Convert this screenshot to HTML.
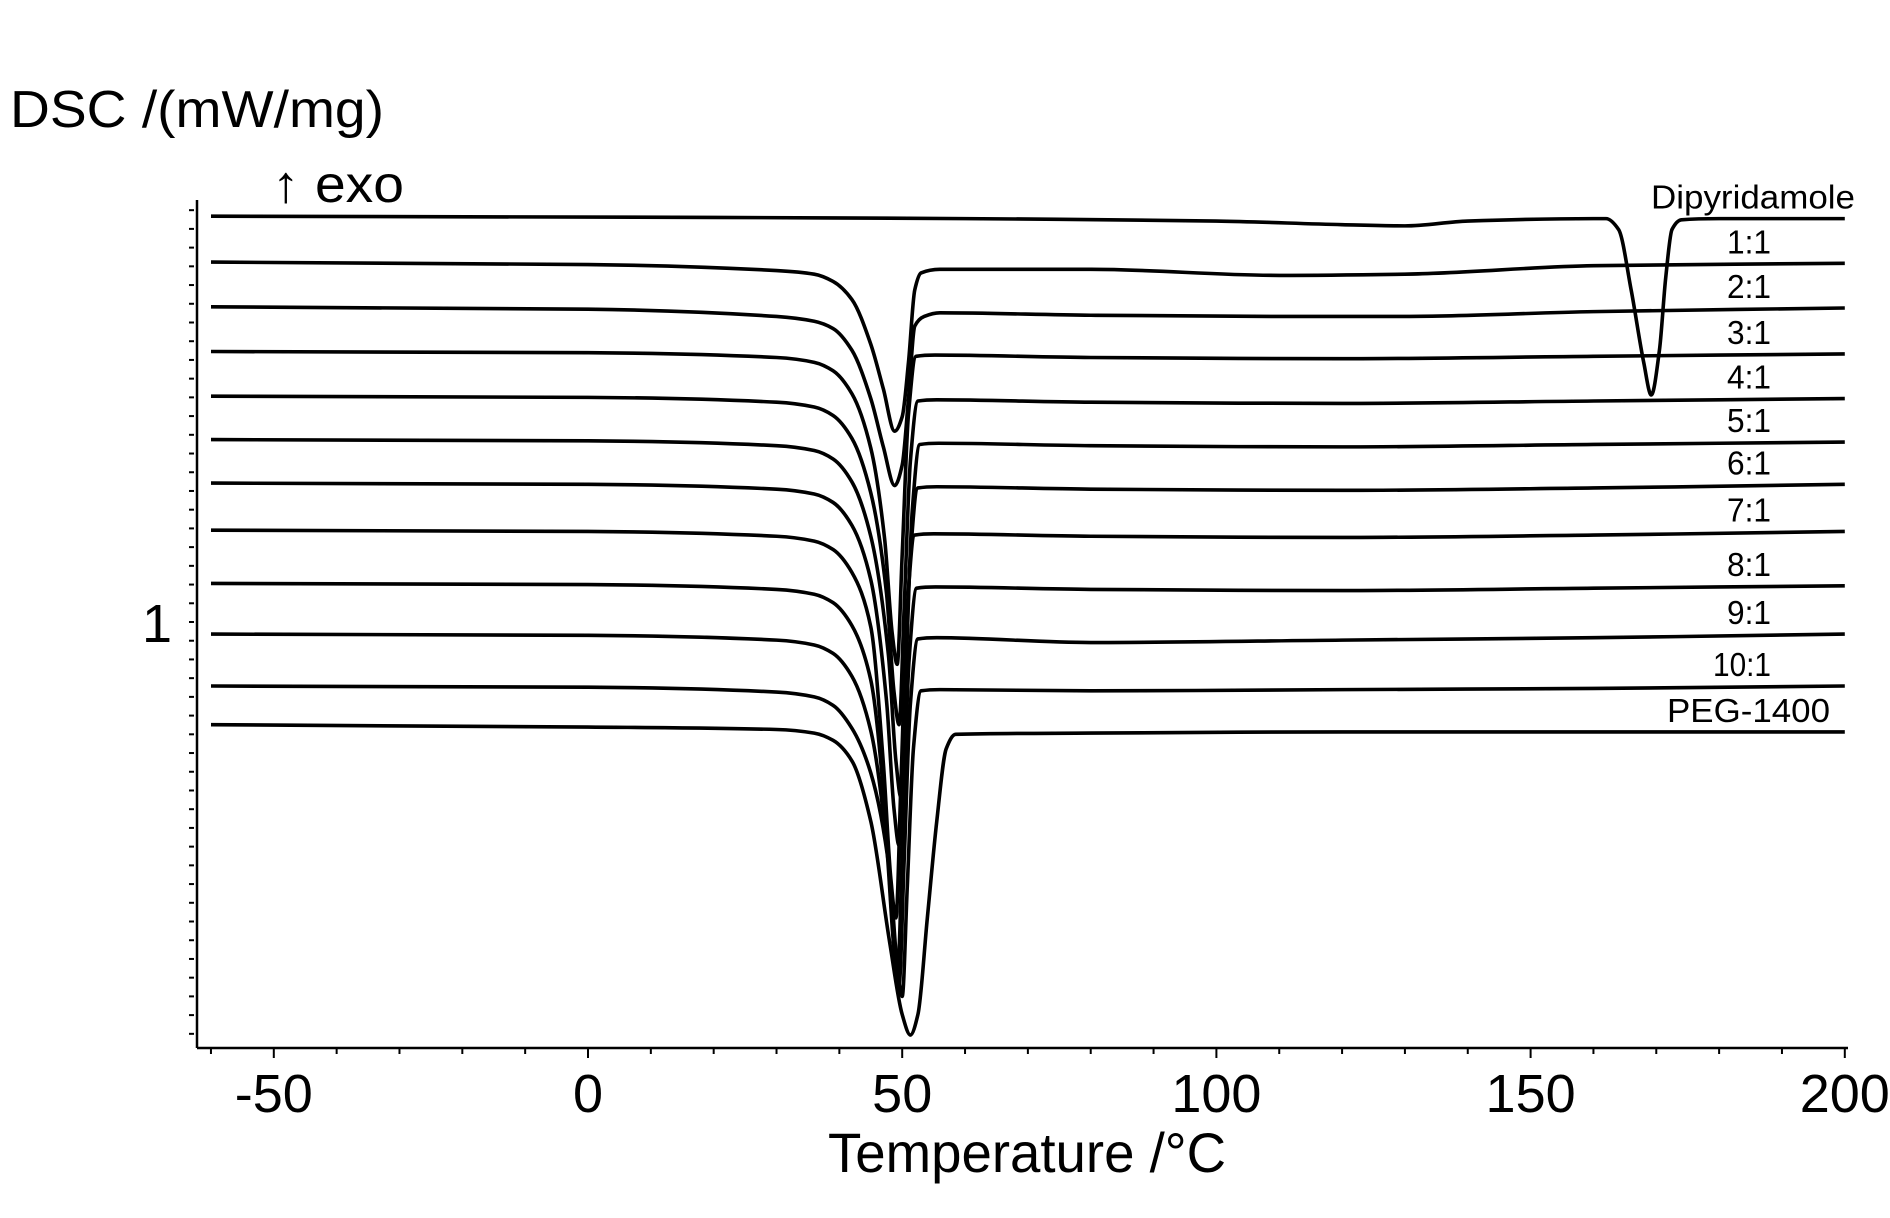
<!DOCTYPE html>
<html><head><meta charset="utf-8"><style>
html,body{margin:0;padding:0;background:#fff;}
svg{display:block;font-family:"Liberation Sans",sans-serif;}
</style></head><body>
<svg id="chart" width="1890" height="1218" viewBox="0 0 1890 1218" xmlns="http://www.w3.org/2000/svg">
<g id="axes"></g>
<g id="curves"></g>
<g id="labels"></g>
<text x="10" y="127" font-size="52" textLength="374" lengthAdjust="spacingAndGlyphs">DSC /(mW/mg)</text>
<text x="272" y="202" font-size="52" textLength="132" lengthAdjust="spacingAndGlyphs">↑ exo</text>
<text x="1027" y="1172" font-size="56" text-anchor="middle" textLength="398" lengthAdjust="spacingAndGlyphs">Temperature /°C</text>
</svg>
<script>
const seriesNames = ["Dipyridamole","1:1","2:1","3:1","4:1","5:1","6:1","7:1","8:1","9:1","10:1","PEG-1400"];
const tDip = [-60,20,60,100,120,130,140,160,162,164,166,168,169.2,170.5,171.5,172.5,174,180,200];
const vDip = [4.36,4.35,4.34,4.32,4.29,4.28,4.32,4.34,4.34,4.25,3.75,3.15,2.88,3.25,3.85,4.25,4.33,4.34,4.34];
const t11 = [-60,0,30,36,39,42,45,47,48.8,50,51,52,53,56,80,110,130,160,200];
const v11 = [3.98,3.96,3.91,3.88,3.82,3.67,3.30,2.93,2.58,2.70,3.15,3.75,3.89,3.92,3.92,3.87,3.88,3.95,3.97];
const t21 = [-60,0,30,36,39,42,45,47,48.8,50,51,52,53.5,56,80,110,130,160,200];
const v21 = [3.61,3.59,3.53,3.49,3.43,3.25,2.85,2.45,2.13,2.30,2.85,3.45,3.53,3.56,3.54,3.53,3.53,3.57,3.60];
const t31 = [-60,0,30,36,39,42,45,47.2,48.4,49.2,50,51,52.2,55.2,80,120,160,200];
const v31 = [3.24,3.23,3.19,3.15,3.08,2.89,2.44,1.69,0.91,0.65,1.56,2.72,3.20,3.21,3.19,3.18,3.20,3.22];
const t41 = [-60,0,30,36,39,42,45,47.5,48.7,49.5,50.3,51.3,52.5,55.5,80,120,160,200];
const v41 = [2.87,2.86,2.82,2.78,2.71,2.52,2.07,1.24,0.42,0.15,1.10,2.33,2.83,2.84,2.82,2.81,2.83,2.85];
const t51 = [-60,0,30,36,39,42,45,47.8,49,49.8,50.6,51.6,52.8,55.8,80,120,160,200];
const v51 = [2.51,2.50,2.46,2.42,2.35,2.16,1.71,0.73,-0.15,-0.45,0.59,1.92,2.47,2.48,2.46,2.45,2.47,2.49];
const t61 = [-60,0,30,36,39,42,45,47.5,48.7,49.5,50.3,51.3,52.5,55.5,80,120,160,200];
const v61 = [2.15,2.14,2.10,2.06,1.99,1.80,1.35,0.35,-0.55,-0.85,0.20,1.55,2.11,2.12,2.10,2.09,2.11,2.14];
const t71 = [-60,0,30,36,39,42,45,47,48.2,49,49.8,50.8,52,55,80,120,160,200];
const v71 = [1.76,1.75,1.71,1.67,1.60,1.41,0.96,-0.17,-1.13,-1.45,-0.33,1.12,1.72,1.73,1.71,1.70,1.72,1.75];
const t81 = [-60,0,30,36,39,42,45,47.3,48.5,49.3,50.1,51.1,52.3,55.3,80,120,160,200];
const v81 = [1.32,1.31,1.27,1.23,1.16,0.97,0.52,-0.58,-1.53,-1.85,-0.74,0.69,1.28,1.29,1.27,1.26,1.28,1.30];
const t91 = [-60,0,30,36,39,42,45,47.5,48.7,49.5,50.3,51.3,52.5,55.5,80,120,160,200];
const v91 = [0.90,0.89,0.85,0.81,0.74,0.55,0.10,-0.84,-1.71,-2.00,-0.99,0.32,0.86,0.87,0.83,0.85,0.87,0.90];
const t101 = [-60,0,30,36,39,42,45,48,49.2,50,50.8,51.8,53,56,80,120,160,200];
const v101 = [0.47,0.46,0.42,0.38,0.31,0.12,-0.25,-1.07,-1.84,-2.10,-1.20,-0.04,0.43,0.44,0.43,0.44,0.45,0.47];
const tPeg = [-60,0,30,36,39,42,45,48,50,51.3,52.5,54,55.5,57,58.5,80,120,160,200];
const vPeg = [0.15,0.13,0.11,0.08,0.02,-0.15,-0.65,-1.65,-2.25,-2.42,-2.25,-1.45,-0.65,-0.05,0.07,0.08,0.09,0.09,0.09];
const xTickLabels = ["-50","0","50","100","150","200"];
const xTickValues = [-50,0,50,100,150,200];
const yTickLabels = ["1"];
const yTickValues = [1];

const NS = "http://www.w3.org/2000/svg";
function x(t){ return 588 + t*6.284; }
function y(v){ return 622 - (v-1)*120.77; }
function mk(tag, attrs, parent){
  const e = document.createElementNS(NS, tag);
  for (const k in attrs) e.setAttribute(k, attrs[k]);
  parent.appendChild(e); return e;
}
const axes = document.getElementById('axes');
const X0 = 197, X1 = 1848, YB = 1048, YT = 200;
let a = mk('line',{x1:X0,y1:YB,x2:X1,y2:YB,stroke:'#000','stroke-width':2.5},axes);


let b = mk('line',{x1:X0,y1:YT,x2:X0,y2:YB,stroke:'#000','stroke-width':2.5},axes);


for (let t=-60; t<=200; t+=10){
  const major = t%50===0;
  const tk = mk('line',{x1:x(t),y1:YB,x2:x(t),y2:YB+(major?10:6),stroke:'#000','stroke-width':2},axes);
  
  
}
xTickValues.forEach((t,i)=>{
  const tx = mk('text',{x:x(t),y:1112,'font-size':54,'text-anchor':'middle'},axes);
  tx.textContent = xTickLabels[i];
  
  
});
for (let k=-22; k<=22; k++){
  const v = 1 + k*0.155;
  const py = y(v);
  if (py < 205 || py > 1045) continue;
  const tk = mk('line',{x1:X0-8,y1:py,x2:X0-3,y2:py,stroke:'#000','stroke-width':2},axes);
  
  
}
yTickValues.forEach((v,i)=>{
  const tx = mk('text',{x:157,y:y(v)+20,'font-size':54,'text-anchor':'middle'},axes);
  tx.textContent = yTickLabels[i];
  
  
});
const allT = [tDip,t11,t21,t31,t41,t51,t61,t71,t81,t91,t101,tPeg];
const allV = [vDip,v11,v21,v31,v41,v51,v61,v71,v81,v91,v101,vPeg];
const curves = document.getElementById('curves');
function pathFor(ts, vs){
  // monotone cubic (Fritsch-Carlson) interpolation, no overshoot
  const px = ts.map(x), py = vs.map(y);
  const n = px.length;
  const dx=[], s=[];
  for (let i=0;i<n-1;i++){ dx.push(px[i+1]-px[i]); s.push((py[i+1]-py[i])/dx[i]); }
  const m = new Array(n);
  m[0]=s[0]; m[n-1]=s[n-2];
  for (let i=1;i<n-1;i++){
    if (s[i-1]*s[i] <= 0) m[i]=0;
    else { const w1=2*dx[i]+dx[i-1], w2=dx[i]+2*dx[i-1]; m[i]=(w1+w2)/(w1/s[i-1]+w2/s[i]); }
  }
  let d = 'M'+px[0].toFixed(1)+','+py[0].toFixed(1);
  for (let i=0;i<n-1;i++){
    const h=dx[i]/3;
    d += ' C'+(px[i]+h).toFixed(2)+','+(py[i]+m[i]*h).toFixed(2)+' '+(px[i+1]-h).toFixed(2)+','+(py[i+1]-m[i+1]*h).toFixed(2)+' '+px[i+1].toFixed(2)+','+py[i+1].toFixed(2);
  }
  return d;
}
const labels = document.getElementById('labels');
const labelX = [1855,1771,1771,1771,1771,1771,1771,1771,1771,1771,1771,1830];
const labelW = [204,44,44,44,44,44,44,44,44,44,58,163];
allT.forEach((ts,i)=>{
  const pth = mk('path',{d:pathFor(ts,allV[i]),fill:'none',stroke:'#000','stroke-width':3.6,'stroke-linejoin':'round'},curves);
  
  
  const vEnd = allV[i][allV[i].length-1];
  const lb = mk('text',{x:labelX[i],y:y(vEnd)-10,'font-size':33,'text-anchor':'end',textLength:labelW[i],lengthAdjust:'spacingAndGlyphs'},labels);
  lb.textContent = seriesNames[i];
  
  
});
</script>
</body></html>
